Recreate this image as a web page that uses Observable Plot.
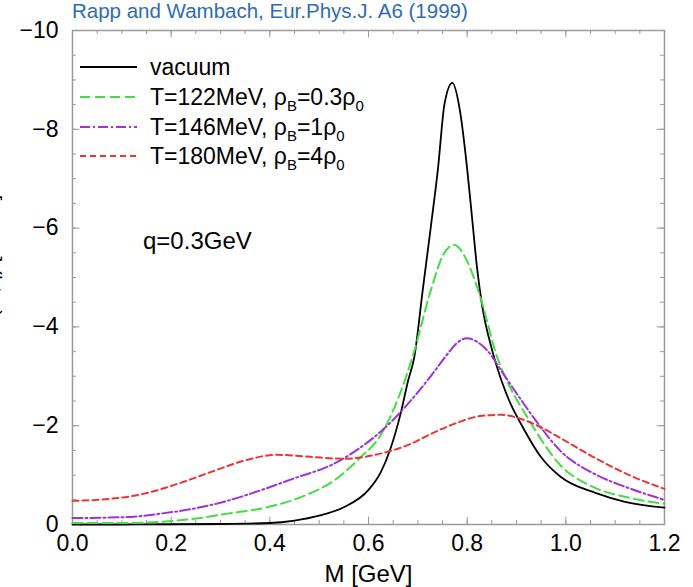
<!DOCTYPE html>
<html>
<head>
<meta charset="utf-8">
<script src="https://cdn.jsdelivr.net/npm/d3@7"></script>
<script src="https://cdn.jsdelivr.net/npm/@observablehq/plot@0.6"></script>
<style>
  html, body { margin: 0; padding: 0; background: #fff; }
  #wrap { position: relative; width: 693px; height: 587px; overflow: hidden; font-family: "Liberation Sans", Arial, sans-serif; }
  #title { position: absolute; left: 72px; top: -1px; font-size: 20.5px; line-height: 24px; color: #2e6db4; white-space: nowrap; }
  #overlay { position: absolute; left: 0; top: 0; pointer-events: none; }
</style>
</head>
<body>
<div id="wrap">
  <div id="title">Rapp and Wambach, Eur.Phys.J. A6 (1999)</div>
</div>
<script>
// ---- data ----
const vacuumM = [0, 0.1, 0.2, 0.3, 0.4, 0.45, 0.5, 0.55, 0.6, 0.625, 0.645, 0.665, 0.68, 0.693, 0.71, 0.726, 0.741, 0.754, 0.77, 0.785, 0.80, 0.81, 0.82, 0.83, 0.85, 0.87, 0.89, 0.91, 0.95, 0.99, 1.06, 1.12, 1.2];
const vacuumV = [0, 0, -0.005, -0.01, -0.03, -0.08, -0.18, -0.35, -0.70, -1.06, -1.55, -2.24, -2.9, -3.4, -4.75, -6.0, -7.22, -8.51, -8.94, -8.40, -7.2, -6.2, -5.2, -4.45, -3.55, -2.9, -2.4, -2.02, -1.36, -0.96, -0.64, -0.46, -0.34];

const t122M = [0, 0.1, 0.2, 0.25, 0.314, 0.395, 0.462, 0.53, 0.584, 0.624, 0.665, 0.691, 0.726, 0.752, 0.774, 0.80, 0.827, 0.861, 0.884, 0.922, 0.989, 1.057, 1.124, 1.2];
const t122V = [-0.03, -0.03, -0.07, -0.12, -0.22, -0.35, -0.55, -0.89, -1.36, -1.8, -2.68, -3.45, -4.73, -5.47, -5.66, -5.33, -4.59, -3.38, -2.84, -2.17, -1.2, -0.75, -0.55, -0.42];

const t146M = [0, 0.11, 0.178, 0.245, 0.314, 0.395, 0.448, 0.53, 0.584, 0.638, 0.678, 0.726, 0.76, 0.78, 0.799, 0.82, 0.841, 0.874, 0.915, 0.949, 0.989, 1.057, 1.124, 1.2];
const t146V = [-0.13, -0.15, -0.22, -0.32, -0.48, -0.74, -0.93, -1.23, -1.56, -2.0, -2.42, -3.0, -3.45, -3.68, -3.77, -3.7, -3.52, -3.04, -2.44, -1.97, -1.49, -1.03, -0.75, -0.50];

const t180M = [0, 0.077, 0.144, 0.212, 0.28, 0.347, 0.415, 0.482, 0.55, 0.618, 0.685, 0.73, 0.78, 0.83, 0.87, 0.908, 0.949, 0.989, 1.057, 1.124, 1.2];
const t180V = [-0.48, -0.52, -0.62, -0.82, -1.06, -1.29, -1.41, -1.37, -1.33, -1.42, -1.63, -1.85, -2.06, -2.2, -2.22, -2.14, -1.97, -1.75, -1.36, -1.02, -0.72];

const xTicks = [0, 0.2, 0.4, 0.6, 0.8, 1.0, 1.2];
const yTicks = [0, -2, -4, -6, -8, -10];
const xMinor = d3.range(0, 1.2001, 0.05);
const yMinor = d3.range(0, -10.001, -0.5);

const seriesNames = ["vacuum", "T=122MeV", "T=146MeV", "T=180MeV"];
const seriesColors = ["#000000", "#44dd44", "#a033d6", "#ee3333"];
const seriesDash = [null, "10,5", "10,3,2,3", "6,4"];
const seriesWidth = [1.8, 2, 2, 2];

const series = [
  [vacuumM, vacuumV], [t122M, t122V], [t146M, t146V], [t180M, t180V]
].map(([m, v], i) => m.map((x, j) => ({M: x, D: v[j], s: i})));

// ---- plot ----
const tickColor = "#9a9a9a";
const marks = [
  Plot.frame({stroke: tickColor, strokeWidth: 1.5}),
  Plot.ruleX(xMinor, {x: d => d, y1: 0, y2: -0.08, stroke: tickColor}),
  Plot.ruleX(xTicks, {x: d => d, y1: 0, y2: -0.15, stroke: tickColor}),
  Plot.ruleX(xMinor, {x: d => d, y1: -10, y2: -9.92, stroke: tickColor}),
  Plot.ruleX(xTicks, {x: d => d, y1: -10, y2: -9.85, stroke: tickColor}),
  Plot.ruleY(yMinor, {y: d => d, x1: 0, x2: 0.008, stroke: tickColor}),
  Plot.ruleY(yTicks, {y: d => d, x1: 0, x2: 0.015, stroke: tickColor}),
  Plot.ruleY(yMinor, {y: d => d, x1: 1.2, x2: 1.192, stroke: tickColor}),
  Plot.ruleY(yTicks, {y: d => d, x1: 1.2, x2: 1.185, stroke: tickColor}),
  Plot.axisX({ticks: xTicks, tickSize: 0, tickPadding: 10, tickFormat: d3.format(".1f"), fontSize: 23, label: null}),
  Plot.axisY({ticks: yTicks, tickSize: 0, tickPadding: 14, tickFormat: d3.format("d"), fontSize: 23, label: null}),
  Plot.text(["M [GeV]"], {frameAnchor: "bottom", lineAnchor: "middle", text: d => d, dy: 50, fontSize: 24, fill: "#000"})
];
series.forEach((data, i) => {
  marks.push(Plot.line(data, {
    x: "M", y: "D", stroke: seriesColors[i], strokeWidth: seriesWidth[i],
    strokeDasharray: seriesDash[i], curve: "monotone-x"
  }));
});

const chart = Plot.plot({
  width: 693, height: 587,
  marginLeft: 72, marginRight: 29, marginTop: 30, marginBottom: 63,
  x: {domain: [0, 1.2]},
  y: {domain: [0, -10]},
  style: {fontFamily: "Liberation Sans, Arial, sans-serif", color: "#000", background: "transparent"},
  marks
});
const wrap = document.getElementById("wrap");
chart.style.position = "absolute";
chart.style.left = "0px";
chart.style.top = "0px";
wrap.insertBefore(chart, wrap.firstChild);

// ---- legend / annotations overlay ----
const ov = d3.select(wrap).append("svg").attr("id", "overlay")
  .attr("width", 693).attr("height", 587)
  .style("font-family", "Liberation Sans, Arial, sans-serif");

const legendLabels = [
  [["vacuum", 0]],
  [["T=122MeV, ρ", 0], ["B", 1], ["=0.3ρ", 0], ["0", 1]],
  [["T=146MeV, ρ", 0], ["B", 1], ["=1ρ", 0], ["0", 1]],
  [["T=180MeV, ρ", 0], ["B", 1], ["=4ρ", 0], ["0", 1]]
];
const rowY = [67, 97, 127, 156];
legendLabels.forEach((parts, i) => {
  ov.append("line").attr("x1", 80).attr("x2", 137).attr("y1", rowY[i]).attr("y2", rowY[i])
    .attr("stroke", seriesColors[i]).attr("stroke-width", seriesWidth[i])
    .attr("stroke-dasharray", seriesDash[i]);
  const t = ov.append("text").attr("x", 150).attr("y", rowY[i] + 8).attr("font-size", 23).attr("fill", "#000");
  parts.forEach(([s, sub], k) => {
    const sp = t.append("tspan").text(s);
    if (sub) sp.attr("font-size", 15).attr("dy", 6);
    else if (k > 0) sp.attr("dy", -6);
  });
});
ov.append("text").attr("x", 143).attr("y", 249).attr("font-size", 24).text("q=0.3GeV");
// y-axis title, almost entirely cut off at the left edge as in the reference
ov.append("text").attr("transform", "translate(-2,278) rotate(-90)").attr("text-anchor", "middle")
  .attr("font-size", 21).text("Im D(M,q) [GeV⁻²]");
</script>
</body>
</html>
